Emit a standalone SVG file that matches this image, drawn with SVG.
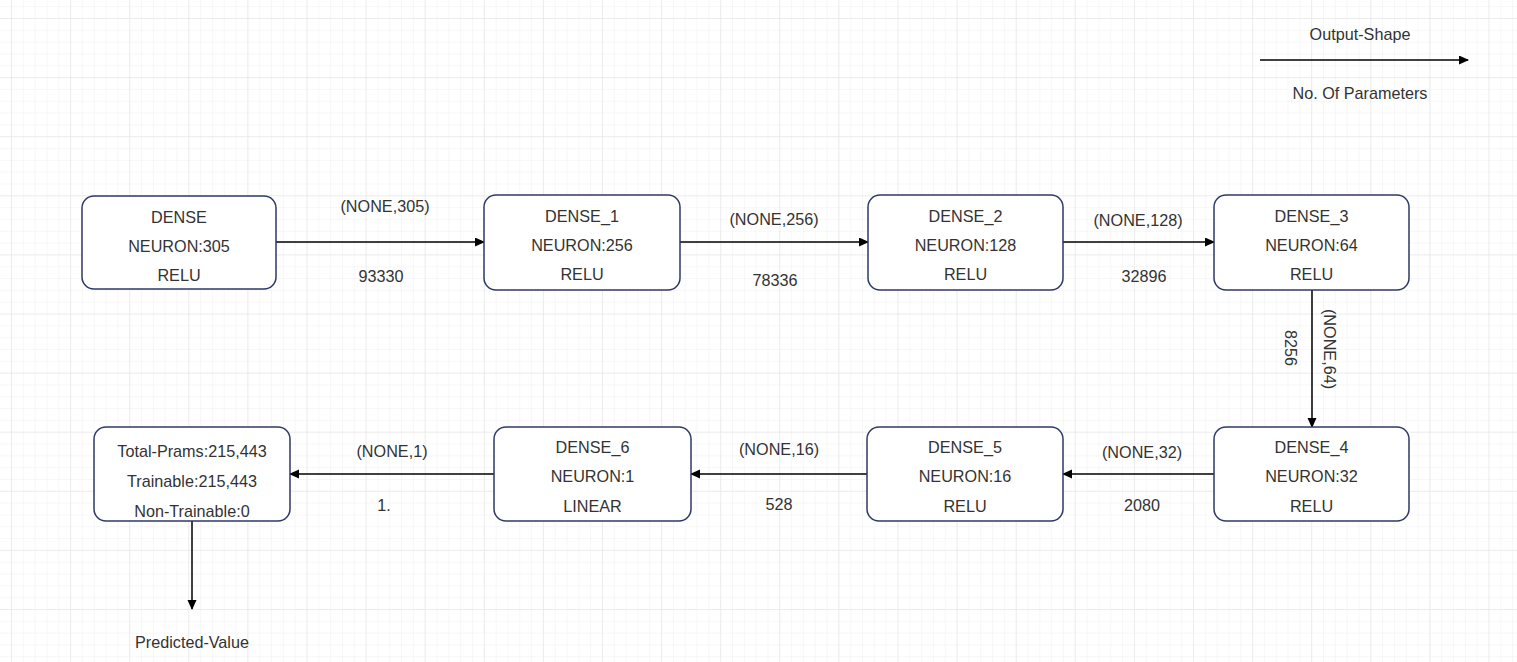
<svg xmlns="http://www.w3.org/2000/svg" width="1517" height="662" viewBox="0 0 1517 662">
  <defs>
    <pattern id="minor" x="11" y="18" width="11.82" height="11.82" patternUnits="userSpaceOnUse">
      <path d="M0,0 V11.82 M0,0 H11.82" fill="none" stroke="#f0f0f0" stroke-width="1"/>
    </pattern>
    <pattern id="major" x="11" y="18" width="59.1" height="59.1" patternUnits="userSpaceOnUse">
      <path d="M0,0 V59.1 M0,0 H59.1" fill="none" stroke="#e2e2e2" stroke-width="1"/>
    </pattern>
    <marker id="arrow" markerUnits="userSpaceOnUse" markerWidth="12" markerHeight="12" refX="9" refY="4.5" orient="auto">
      <path d="M0,0 L10,4.5 L0,9 z" fill="#000"/>
    </marker>
    <style>
      .node rect { fill: #ffffff; stroke: #2e3a66; stroke-width: 1.5; }
      text { font-family: "Liberation Sans", Arial, sans-serif; font-size: 16.2px; fill: #333333; }
      .nt { text-anchor: middle; }
      .lbl { text-anchor: middle; }
      .edge { stroke: #000; stroke-width: 1.5; fill: none; marker-end: url(#arrow); }
    </style>
  </defs>

  <rect width="1517" height="662" fill="#ffffff"/>
  <rect width="1517" height="662" fill="url(#minor)"/>
  <rect width="1517" height="662" fill="url(#major)"/>

  <!-- Legend -->
  <g id="legend">
    <line class="edge" x1="1260" y1="60" x2="1468" y2="60"/>
    <text class="lbl" x="1360" y="40">Output-Shape</text>
    <text class="lbl" x="1360" y="99">No. Of Parameters</text>
  </g>

  <!-- Connectors -->
  <g id="connectors">
    <line class="edge" x1="276" y1="242" x2="484" y2="242"/>
    <line class="edge" x1="680" y1="242" x2="868" y2="242"/>
    <line class="edge" x1="1063" y1="242" x2="1214" y2="242"/>
    <line class="edge" x1="1312" y1="290" x2="1312" y2="427"/>
    <line class="edge" x1="1214" y1="474" x2="1063" y2="474"/>
    <line class="edge" x1="867" y1="474" x2="691" y2="474"/>
    <line class="edge" x1="494" y1="474" x2="290" y2="474"/>
    <line class="edge" x1="192" y1="521" x2="192" y2="609"/>

    <text class="lbl" x="385" y="212">(NONE,305)</text>
    <text class="lbl" x="381" y="282">93330</text>
    <text class="lbl" x="774" y="225">(NONE,256)</text>
    <text class="lbl" x="775" y="286">78336</text>
    <text class="lbl" x="1138" y="226">(NONE,128)</text>
    <text class="lbl" x="1144" y="282">32896</text>
    <text class="lbl" transform="translate(1330,349) rotate(90)" x="0" y="5.9">(NONE,64)</text>
    <text class="lbl" transform="translate(1291,348) rotate(90)" x="0" y="5.9">8256</text>
    <text class="lbl" x="1142" y="458">(NONE,32)</text>
    <text class="lbl" x="1142" y="511">2080</text>
    <text class="lbl" x="779" y="455">(NONE,16)</text>
    <text class="lbl" x="779" y="510">528</text>
    <text class="lbl" x="392" y="457">(NONE,1)</text>
    <text class="lbl" x="384" y="511">1.</text>
    <text class="lbl" x="192" y="648">Predicted-Value</text>
  </g>

  <!-- Nodes -->
  <g id="dense" class="node">
    <rect x="82" y="196" width="194" height="93" rx="12"/>
    <text class="nt" x="179" y="222.5">DENSE</text>
    <text class="nt" x="179" y="252">NEURON:305</text>
    <text class="nt" x="179" y="281">RELU</text>
  </g>
  <g id="dense_1" class="node">
    <rect x="484" y="195" width="196" height="95" rx="12"/>
    <text class="nt" x="582" y="221.5">DENSE_1</text>
    <text class="nt" x="582" y="251">NEURON:256</text>
    <text class="nt" x="582" y="280">RELU</text>
  </g>
  <g id="dense_2" class="node">
    <rect x="868" y="195" width="195" height="95" rx="12"/>
    <text class="nt" x="965.5" y="221.5">DENSE_2</text>
    <text class="nt" x="965.5" y="251">NEURON:128</text>
    <text class="nt" x="965.5" y="280">RELU</text>
  </g>
  <g id="dense_3" class="node">
    <rect x="1214" y="195" width="195" height="95" rx="12"/>
    <text class="nt" x="1311.5" y="221.5">DENSE_3</text>
    <text class="nt" x="1311.5" y="251">NEURON:64</text>
    <text class="nt" x="1311.5" y="280">RELU</text>
  </g>
  <g id="dense_4" class="node">
    <rect x="1214" y="427" width="195" height="94" rx="12"/>
    <text class="nt" x="1311.5" y="452.7">DENSE_4</text>
    <text class="nt" x="1311.5" y="482.4">NEURON:32</text>
    <text class="nt" x="1311.5" y="512">RELU</text>
  </g>
  <g id="dense_5" class="node">
    <rect x="867" y="427" width="196" height="94" rx="12"/>
    <text class="nt" x="965" y="452.7">DENSE_5</text>
    <text class="nt" x="965" y="482.4">NEURON:16</text>
    <text class="nt" x="965" y="512">RELU</text>
  </g>
  <g id="dense_6" class="node">
    <rect x="494" y="427" width="197" height="94" rx="12"/>
    <text class="nt" x="592.5" y="452.7">DENSE_6</text>
    <text class="nt" x="592.5" y="482.4">NEURON:1</text>
    <text class="nt" x="592.5" y="512">LINEAR</text>
  </g>
  <g id="summary" class="node">
    <rect x="94" y="427" width="196" height="94" rx="12"/>
    <text class="nt" x="192" y="456.7">Total-Prams:215,443</text>
    <text class="nt" x="192" y="486.7">Trainable:215,443</text>
    <text class="nt" x="192" y="516.5">Non-Trainable:0</text>
  </g>
</svg>
